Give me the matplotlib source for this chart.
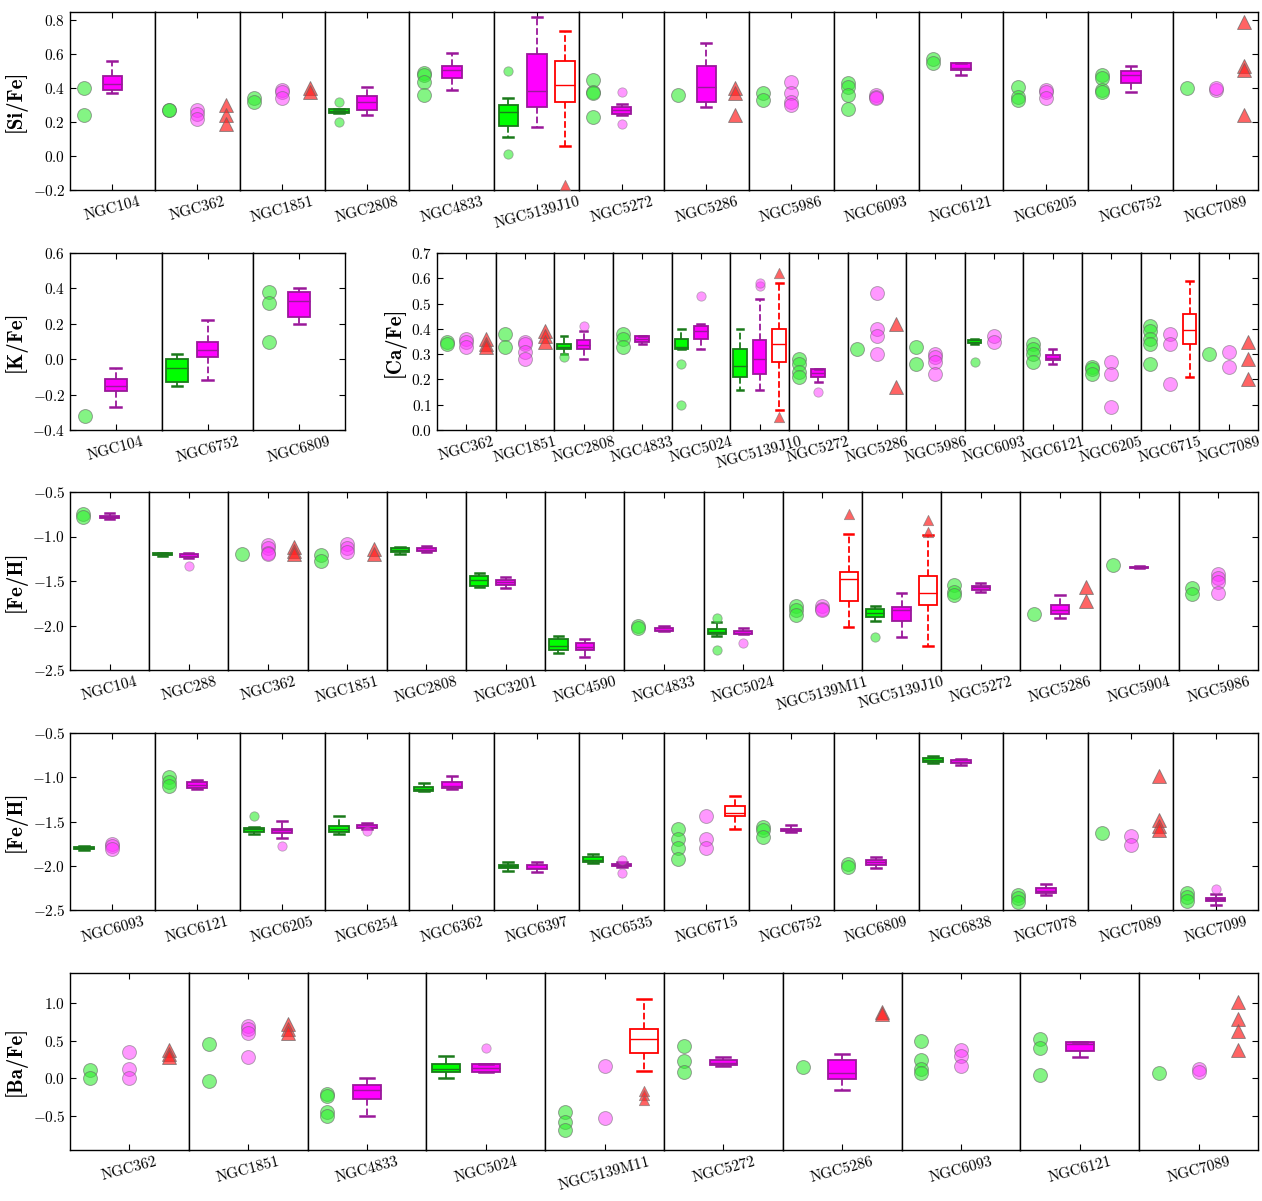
import matplotlib
matplotlib.use("Agg")
import matplotlib.pyplot as plt
from matplotlib.ticker import FuncFormatter, MultipleLocator

plt.rcParams['font.family'] = 'serif'
plt.rcParams['font.serif'] = ['cmr10', 'DejaVu Serif']
plt.rcParams['mathtext.fontset'] = 'cm'
plt.rcParams['axes.unicode_minus'] = False

# each cluster: (name, green, magenta, red)
# a list = individual stars, a tuple = box stats (lo, q1, med, q3, hi, [fliers])
si_fe = [
    ("NGC104", [0.40, 0.24], (0.37, 0.39, 0.425, 0.47, 0.56, []), None),
    ("NGC362", [0.27, 0.27], [0.27, 0.25, 0.22], [0.30, 0.24, 0.19]),
    ("NGC1851", [0.34, 0.32], [0.39, 0.38, 0.34], [0.40, 0.38]),
    ("NGC2808", (0.255, 0.255, 0.265, 0.28, 0.28, [0.32, 0.20]), (0.24, 0.27, 0.32, 0.355, 0.41, []), None),
    ("NGC4833", [0.49, 0.48, 0.44, 0.36], (0.39, 0.46, 0.51, 0.53, 0.61, []), None),
    ("NGC5139J10", (0.11, 0.18, 0.26, 0.30, 0.34, [0.50, 0.01]), (0.17, 0.29, 0.385, 0.60, 0.82, []),
     (0.06, 0.32, 0.42, 0.56, 0.74, [-0.17])),
    ("NGC5272", [0.45, 0.38, 0.37, 0.23], (0.24, 0.25, 0.27, 0.29, 0.31, [0.38, 0.19]), None),
    ("NGC5286", [0.36], (0.29, 0.32, 0.41, 0.53, 0.67, []), [0.40, 0.37, 0.24]),
    ("NGC5986", [0.37, 0.33], [0.44, 0.37, 0.32, 0.30], None),
    ("NGC6093", [0.43, 0.41, 0.36, 0.28], [0.36, 0.35, 0.34], None),
    ("NGC6121", [0.57, 0.55], (0.48, 0.51, 0.52, 0.55, 0.55, []), None),
    ("NGC6205", [0.41, 0.35, 0.33], [0.39, 0.38, 0.34], None),
    ("NGC6752", [0.48, 0.46, 0.39, 0.38], (0.38, 0.43, 0.48, 0.50, 0.53, []), None),
    ("NGC7089", [0.40], [0.39, 0.40], [0.79, 0.53, 0.51, 0.24]),
]

k_fe = [
    ("NGC104", [-0.32], (-0.27, -0.18, -0.15, -0.11, -0.05, []), None),
    ("NGC6752", (-0.15, -0.13, -0.05, 0.0, 0.03, []), (-0.12, 0.01, 0.05, 0.10, 0.22, []), None),
    ("NGC6809", [0.38, 0.32, 0.10], (0.20, 0.24, 0.33, 0.38, 0.40, []), None),
]

ca_fe = [
    ("NGC362", [0.35, 0.34], [0.36, 0.35, 0.33], [0.36, 0.34, 0.33]),
    ("NGC1851", [0.38, 0.33], [0.35, 0.34, 0.31, 0.28], [0.39, 0.37, 0.35]),
    ("NGC2808", (0.30, 0.32, 0.33, 0.34, 0.37, [0.29]), (0.28, 0.32, 0.335, 0.355, 0.39, [0.41]), None),
    ("NGC4833", [0.38, 0.36, 0.33], (0.34, 0.35, 0.36, 0.37, 0.37, []), None),
    ("NGC5024", (0.32, 0.32, 0.33, 0.36, 0.40, [0.26, 0.10]), (0.32, 0.36, 0.39, 0.41, 0.42, [0.53]), None),
    ("NGC5139J10", (0.16, 0.21, 0.255, 0.32, 0.40, []), (0.16, 0.22, 0.28, 0.355, 0.52, [0.57, 0.58]),
     (0.08, 0.27, 0.34, 0.40, 0.58, [0.62, 0.05])),
    ("NGC5272", [0.28, 0.26, 0.23, 0.21], (0.19, 0.21, 0.225, 0.24, 0.24, [0.15]), None),
    ("NGC5286", [0.32], [0.54, 0.40, 0.37, 0.30], [0.42, 0.17]),
    ("NGC5986", [0.33, 0.26], [0.30, 0.29, 0.27, 0.22], None),
    ("NGC6093", (0.34, 0.345, 0.35, 0.355, 0.36, [0.27]), [0.37, 0.35], None),
    ("NGC6121", [0.34, 0.32, 0.30, 0.27], (0.26, 0.275, 0.285, 0.295, 0.32, []), None),
    ("NGC6205", [0.25, 0.24, 0.22], [0.27, 0.22, 0.09], None),
    ("NGC6715", [0.41, 0.39, 0.36, 0.34, 0.26], [0.38, 0.34, 0.18], (0.21, 0.34, 0.395, 0.46, 0.59, [])),
    ("NGC7089", [0.30], [0.31, 0.25], [0.35, 0.28, 0.20]),
]

fe_h_a = [
    ("NGC104", [-0.75, -0.78], (-0.80, -0.795, -0.78, -0.77, -0.74, []), None),
    ("NGC288", (-1.22, -1.21, -1.20, -1.19, -1.18, []), (-1.24, -1.23, -1.22, -1.20, -1.18, [-1.33]), None),
    ("NGC362", [-1.20], [-1.10, -1.13, -1.18, -1.20], [-1.12, -1.16, -1.20]),
    ("NGC1851", [-1.21, -1.27], [-1.08, -1.13, -1.17], [-1.14, -1.20]),
    ("NGC2808", (-1.20, -1.17, -1.15, -1.13, -1.12, []), (-1.17, -1.16, -1.15, -1.13, -1.11, []), None),
    ("NGC3201", (-1.57, -1.56, -1.49, -1.44, -1.41, []), (-1.58, -1.55, -1.51, -1.49, -1.46, []), None),
    ("NGC4590", (-2.31, -2.27, -2.23, -2.15, -2.12, []), (-2.35, -2.27, -2.24, -2.20, -2.15, []), None),
    ("NGC4833", [-2.01, -2.03], (-2.06, -2.06, -2.05, -2.03, -2.00, []), None),
    ("NGC5024", (-2.12, -2.09, -2.07, -2.04, -1.96, [-1.92, -2.27]), (-2.10, -2.09, -2.08, -2.06, -2.03, [-2.20]), None),
    ("NGC5139M11", [-1.78, -1.83, -1.88], [-1.78, -1.81, -1.83], (-2.02, -1.73, -1.475, -1.40, -0.97, [-0.745])),
    ("NGC5139J10", (-1.95, -1.905, -1.86, -1.81, -1.78, [-2.13]), (-2.13, -1.95, -1.83, -1.79, -1.64, []),
     (-2.23, -1.775, -1.64, -1.445, -0.98, [-0.95, -0.81])),
    ("NGC5272", [-1.55, -1.62, -1.66], (-1.62, -1.60, -1.57, -1.56, -1.52, []), None),
    ("NGC5286", [-1.87], (-1.92, -1.87, -1.83, -1.77, -1.66, []), [-1.57, -1.72]),
    ("NGC5904", [-1.32], (-1.355, -1.35, -1.345, -1.34, -1.33, []), None),
    ("NGC5986", [-1.58, -1.65], [-1.42, -1.47, -1.51, -1.63], None),
]

fe_h_b = [
    ("NGC6093", (-1.82, -1.81, -1.80, -1.79, -1.78, []), [-1.75, -1.78, -1.81], None),
    ("NGC6121", [-1.00, -1.05, -1.10], (-1.13, -1.12, -1.09, -1.05, -1.03, []), None),
    ("NGC6205", (-1.64, -1.62, -1.59, -1.57, -1.56, [-1.44]), (-1.69, -1.63, -1.60, -1.58, -1.49, [-1.78]), None),
    ("NGC6254", (-1.64, -1.62, -1.58, -1.55, -1.44, []), (-1.58, -1.57, -1.56, -1.54, -1.52, [-1.61]), None),
    ("NGC6362", (-1.16, -1.15, -1.13, -1.11, -1.07, []), (-1.13, -1.12, -1.10, -1.05, -0.99, []), None),
    ("NGC6397", (-2.06, -2.02, -2.00, -1.99, -1.96, []), (-2.07, -2.04, -2.02, -1.99, -1.96, []), None),
    ("NGC6535", (-1.97, -1.96, -1.93, -1.90, -1.87, []), (-2.01, -2.00, -1.99, -1.98, -1.96, [-1.93, -2.08]), None),
    ("NGC6715", [-1.58, -1.70, -1.80, -1.92], [-1.44, -1.70, -1.80], (-1.58, -1.44, -1.40, -1.32, -1.21, [])),
    ("NGC6752", [-1.56, -1.60, -1.68], (-1.62, -1.61, -1.60, -1.59, -1.54, []), None),
    ("NGC6809", [-1.98, -2.01], (-2.03, -1.99, -1.96, -1.93, -1.90, []), None),
    ("NGC6838", (-0.84, -0.83, -0.80, -0.78, -0.76, []), (-0.86, -0.84, -0.83, -0.81, -0.79, []), None),
    ("NGC7078", [-2.33, -2.37, -2.41], (-2.33, -2.31, -2.29, -2.25, -2.21, []), None),
    ("NGC7089", [-1.63], [-1.66, -1.76], [-0.99, -1.48, -1.55, -1.60]),
    ("NGC7099", [-2.31, -2.35, -2.40], (-2.44, -2.40, -2.38, -2.36, -2.32, [-2.26]), None),
]

ba_fe = [
    ("NGC362", [0.11, 0.00], [0.35, 0.12, 0.00], [0.38, 0.33, 0.28]),
    ("NGC1851", [0.46, -0.03], [0.70, 0.65, 0.60, 0.28], [0.72, 0.66, 0.60]),
    ("NGC4833", [-0.20, -0.23, -0.45, -0.50], (-0.50, -0.27, -0.15, -0.09, 0.00, []), None),
    ("NGC5024", (0.00, 0.09, 0.13, 0.19, 0.30, []), (0.09, 0.09, 0.14, 0.19, 0.19, [0.40]), None),
    ("NGC5139M11", [-0.45, -0.58, -0.68], [0.17, -0.53], (0.10, 0.34, 0.53, 0.66, 1.05, [-0.17, -0.22, -0.28])),
    ("NGC5272", [0.43, 0.23, 0.08], (0.17, 0.18, 0.21, 0.24, 0.28, []), None),
    ("NGC5286", [0.15], (-0.16, -0.01, 0.07, 0.25, 0.33, []), [0.88, 0.85]),
    ("NGC6093", [0.50, 0.25, 0.12, 0.07], [0.38, 0.30, 0.17], None),
    ("NGC6121", [0.53, 0.40, 0.04], (0.28, 0.37, 0.46, 0.48, 0.48, []), None),
    ("NGC7089", [0.07], [0.13, 0.08], [1.02, 0.79, 0.63, 0.38]),
]

STYLE = {
    0: dict(fc='#00ff00', ec='#1a7a1a', pt='#33ee33', marker='o', alpha=0.6),
    1: dict(fc='#ff00ff', ec='#9a189a', pt='#ff33ff', marker='o', alpha=0.5),
    2: dict(fc='none', ec='#ff0000', pt='#ff2222', marker='^', alpha=0.7),
}

W, H = 1262, 1201


def fmt(v, pos):
    return f'${v:.1f}$'


def draw_group(ax, x, data, k):
    st = STYLE[k]
    if data is None:
        return
    if isinstance(data, tuple):
        lo, q1, med, q3, hi, fl = data
        stats = [dict(whislo=lo, q1=q1, med=med, q3=q3, whishi=hi, fliers=[])]
        ax.bxp(stats, positions=[x], widths=0.7, patch_artist=True, showfliers=False,
               boxprops=dict(facecolor=st['fc'], edgecolor=st['ec'], lw=1.3),
               medianprops=dict(color=st['ec'], lw=1),
               whiskerprops=dict(color=st['ec'], ls='--', lw=1.3),
               capprops=dict(color=st['ec'], lw=1.8), manage_ticks=False)
        if fl:
            ax.scatter([x] * len(fl), fl, s=45 if k < 2 else 55, marker=st['marker'], color=st['pt'],
                       alpha=st['alpha'], edgecolors='#777777', linewidths=0.6, zorder=3)
    else:
        ax.scatter([x] * len(data), data, s=100, marker=st['marker'], color=st['pt'],
                   alpha=st['alpha'], edgecolors='#666666', linewidths=0.7, zorder=3)


def draw_row(clusters, left, right, top, bottom, ylim, step, ylabel):
    n = len(clusters)
    pw = (right - left) / n
    for i, (name, g, m, r) in enumerate(clusters):
        ax = plt.gcf().add_axes([(left + i * pw) / W, 1 - bottom / H, pw / W, (bottom - top) / H])
        for k, d in enumerate([g, m, r]):
            draw_group(ax, k + 1, d, k)
        ax.set_xlim(0.5, 3.5)
        ax.set_ylim(*ylim)
        ax.set_xticks([2])
        ax.set_xticklabels([name], rotation=15, fontsize=11)
        ax.tick_params(direction='in', top=True, right=(i == n - 1), left=(i == 0),
                       length=4, labelsize=11)
        ax.yaxis.set_major_locator(MultipleLocator(step))
        ax.yaxis.set_major_formatter(FuncFormatter(fmt))
        if i != 0:
            ax.tick_params(labelleft=False)
        else:
            ax.set_ylabel(ylabel, fontsize=15, family='cmb10')
        for sp in ax.spines.values():
            sp.set_linewidth(1.0)


fig = plt.figure(figsize=(W / 100, H / 100), dpi=100)
draw_row(si_fe, 70, 1258, 12, 190, (-0.2, 0.85), 0.2, '[Si/Fe]')
draw_row(k_fe, 70, 345, 253, 430, (-0.4, 0.6), 0.2, '[K/Fe]')
draw_row(ca_fe, 437, 1258, 253, 430, (0.0, 0.7), 0.1, '[Ca/Fe]')
draw_row(fe_h_a, 70, 1258, 492, 670, (-2.5, -0.5), 0.5, '[Fe/H]')
draw_row(fe_h_b, 70, 1258, 733, 910, (-2.5, -0.5), 0.5, '[Fe/H]')
draw_row(ba_fe, 70, 1258, 973, 1150, (-0.95, 1.4), 0.5, '[Ba/Fe]')
fig.savefig('out.png', dpi=100)
